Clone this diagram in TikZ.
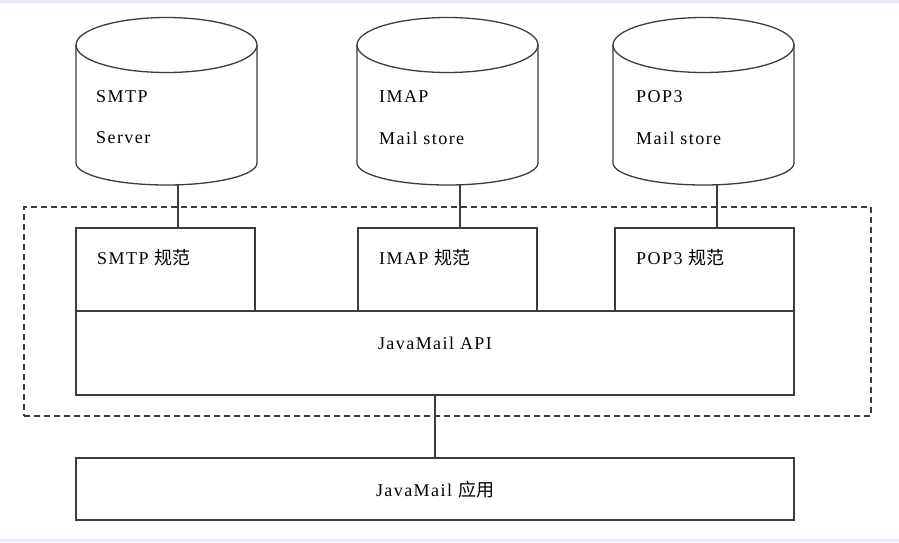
\documentclass[tikz,border=0pt]{standalone}
\usepackage{fontspec}
\setmainfont{Liberation Serif}
\newfontfamily\latn{Liberation Serif}[LetterSpace=8]
\newfontfamily\cjk{Noto Sans CJK SC}
\definecolor{ln}{RGB}{60,60,60}
\definecolor{band}{RGB}{228,234,248}
\begin{document}
\begin{tikzpicture}[x=1pt,y=-1pt,
  ln/.style={draw=ln,line width=1.3pt},
  txt/.style={inner sep=0pt,anchor=west,font=\latn\fontsize{18}{20}\selectfont},
  ctxt/.style={inner sep=0pt,font=\latn\fontsize{18}{20}\selectfont},
  cylbox/.style={inner sep=0pt,minimum width=181pt,minimum height=168pt},
  specbox/.style={ln,inner sep=0pt,minimum width=179pt,minimum height=83pt},
  widebox/.style={ln,inner sep=0pt,minimum width=718pt},
  group/.style={draw=ln,line width=1.1pt,dash pattern=on 6pt off 4pt}]
\useasboundingbox[fill=white] (0,0) rectangle (899,542);
\fill[band] (0,0) rectangle (899,3);
\fill[band] (0,539) rectangle (899,542);

% cylinders
\foreach \n/\cx in {smtpc/166.5,imapc/447.5,popc/703.5}{
  \node[cylbox] (\n) at (\cx,101) {};
  \draw[ln] (\cx,45) ellipse [x radius=90.5pt,y radius=27.5pt];
  \draw[ln] (\cx-90.5,45) -- (\cx-90.5,163)
     arc[start angle=180,end angle=360,x radius=90.5pt,y radius=22pt]
     -- (\cx+90.5,45);
}
\node[txt] (smtpa) at (96,97) {SMTP};
\node[txt] (smtpb) at (96,138) {Server};
\node[txt] (imapa) at (379,97) {IMAP};
\node[txt] (imapb) at (379,138) {Mail store};
\node[txt] (popa) at (636,97) {POP3};
\node[txt] (popb) at (636,138) {Mail store};

% group
\node[group,inner sep=0pt,minimum width=847pt,minimum height=209pt] (grp) at (447.5,311.5) {};

% spec boxes
\node[specbox] (smtps) at (165.5,269.5) {};
\node[specbox] (imaps) at (447.5,269.5) {};
\node[specbox] (pops) at (704.5,269.5) {};
\node[txt] (smtpsl) at (97,258) {SMTP {\cjk 规范}};
\node[txt] (imapsl) at (379,258) {IMAP {\cjk 规范}};
\node[txt] (popsl) at (636,258) {POP3 {\cjk 规范}};

% API and app
\node[widebox,minimum height=84pt] (api) at (435,353) {};
\node[ctxt] (apil) at (435,343) {JavaMail API};
\node[widebox,minimum height=62pt] (app) at (435,489) {};
\node[ctxt] (appl) at (435,490) {JavaMail {\cjk 应用}};

% connectors
\draw[ln,line width=1.1pt] ([xshift=11.5pt]smtpc.south) -- ([xshift=12.5pt]smtps.north);
\draw[ln,line width=1.1pt] ([xshift=12.5pt]imapc.south) -- ([xshift=12.5pt]imaps.north);
\draw[ln,line width=1.1pt] ([xshift=13.5pt]popc.south) -- ([xshift=12.5pt]pops.north);
\draw[ln,line width=1.1pt] (api.south) -- (app.north);
\end{tikzpicture}
\end{document}
